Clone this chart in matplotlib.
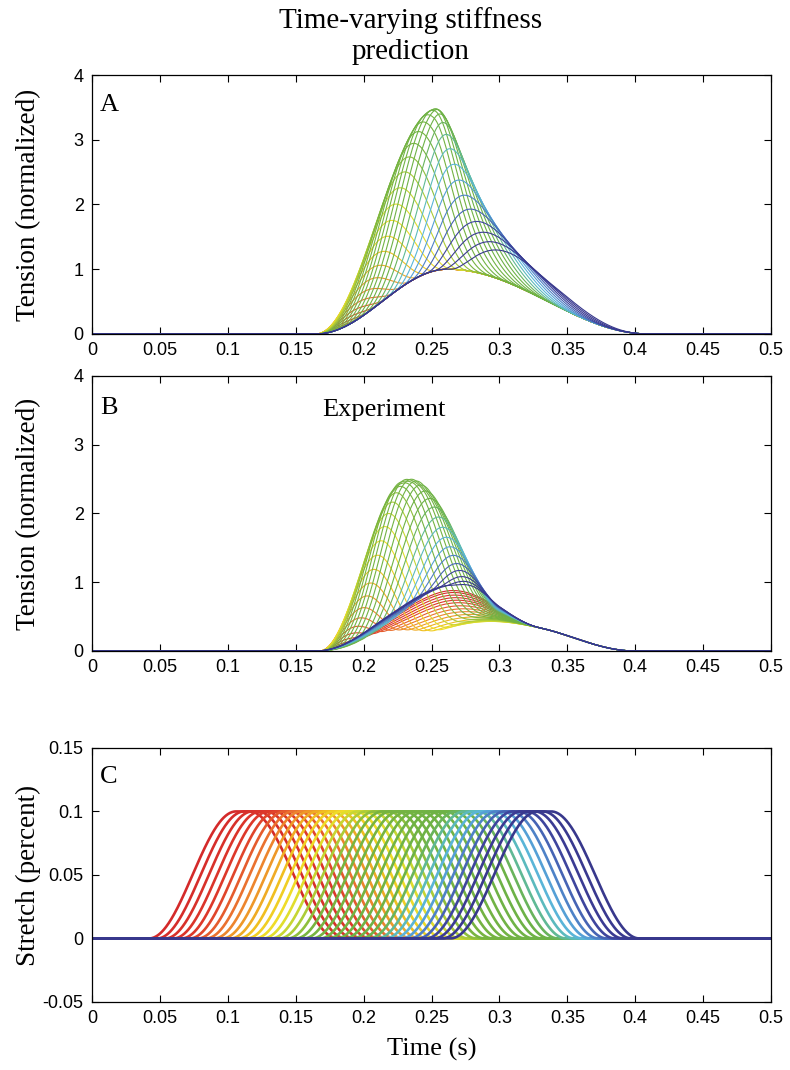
import numpy as np
import matplotlib
matplotlib.use('Agg')
import matplotlib.pyplot as plt
from matplotlib.colors import LinearSegmentedColormap

# stretch onset times (s), one per trial
stretch_onset = [0.042, 0.048, 0.054, 0.060, 0.066, 0.072, 0.078, 0.084, 0.090, 0.096,
                 0.102, 0.108, 0.114, 0.120, 0.126, 0.132, 0.138, 0.144, 0.150, 0.156,
                 0.162, 0.168, 0.174, 0.180, 0.186, 0.192, 0.198, 0.204, 0.210, 0.216,
                 0.222, 0.228, 0.234, 0.240, 0.246, 0.252, 0.258, 0.264]
stretch_size = 0.1
stretch_rise, stretch_hold, stretch_fall = 0.064, 0.010, 0.065

# panel A: twitch (onset, peak, end) and stiffness (onset, peak, decay width)
twitch_a = (0.165, 0.262, 0.41)
stiff_a = (0.165, 0.252, 0.0314)
stiff_a_peak = 2.5

# panel B: measured twitch amplitude per trial, shoulder and stiffness
twitch_b = (0.165, 0.255, 0.33)
twitch_b_amp = [0.72, 0.69, 0.65, 0.61, 0.57, 0.53, 0.48, 0.43, 0.38, 0.33,
                0.28, 0.23, 0.19, 0.17, 0.17, 0.18, 0.20, 0.23, 0.26, 0.29,
                0.32, 0.35, 0.38, 0.42, 0.46, 0.50, 0.54, 0.58, 0.61, 0.64,
                0.67, 0.70, 0.73, 0.75, 0.77, 0.78, 0.79, 0.80]
shoulder_b = (0.22, 0.31, 0.40)
shoulder_b_amp = 0.38
stiff_b = (0.168, 0.228, 0.30)
stiff_b_peak = 2.2

xticks = [0, 0.05, 0.1, 0.15, 0.2, 0.25, 0.3, 0.35, 0.4, 0.45, 0.5]
xticklabels = ['0', '0.05', '0.1', '0.15', '0.2', '0.25', '0.3', '0.35', '0.4', '0.45', '0.5']

t = np.linspace(0, 0.5, 1001)


def ramp(x):
    x = np.clip(x, 0, 1)
    return 0.5 * (1 - np.cos(np.pi * x))


def bump(t, p):
    t0, tp, t1 = p
    return ramp((t - t0) / (tp - t0)) - ramp((t - tp) / (t1 - tp))


def rise_decay(t, p):
    # cosine rise to the peak, then a slow (long-tailed) decay
    t0, tp, w = p
    up = ramp((t - t0) / (tp - t0))
    down = 1.0 / (1.0 + ((t - tp) / w) ** 2)
    return np.where(t < tp, up, down)


def stretch(t, t0):
    up = ramp((t - t0) / stretch_rise)
    down = ramp((t - t0 - stretch_rise - stretch_hold) / stretch_fall)
    return stretch_size * (up - down)


cmap = LinearSegmentedColormap.from_list('trials', [
    (0.00, '#d42a2a'), (0.12, '#de3a2a'), (0.20, '#ec7a30'), (0.30, '#f0c020'),
    (0.36, '#efe22a'), (0.42, '#b8d236'), (0.48, '#78b440'), (0.72, '#6cb248'),
    (0.77, '#5cbcb0'), (0.82, '#5ab4e0'), (0.88, '#4a74c0'), (0.93, '#3c3c96'),
    (1.00, '#38388c')])
n = len(stretch_onset)
colors = [cmap(k / (n - 1)) for k in range(n)]

serif = 'Liberation Serif'
sans = 'Liberation Sans'

fig = plt.figure(figsize=(7.9, 10.7), dpi=100)
L, W = 0.1165, 0.8595
axA = fig.add_axes([L, 0.6879, W, 0.2420])
axB = fig.add_axes([L, 0.3916, W, 0.2570])
axC = fig.add_axes([L, 0.0636, W, 0.2374])

base_a = bump(t, twitch_a)
k_a = stiff_a_peak * rise_decay(t, stiff_a)
shoulder = shoulder_b_amp * bump(t, shoulder_b)
k_b = stiff_b_peak * bump(t, stiff_b)

for k in range(n):
    s = stretch(t, stretch_onset[k])
    axA.plot(t, base_a + k_a * s / stretch_size, color=colors[k], lw=0.8)
    tb = twitch_b_amp[k] * bump(t, twitch_b) + shoulder + k_b * s / stretch_size
    axB.plot(t, tb, color=colors[k], lw=0.8)
    axC.plot(t, s, color=colors[k], lw=1.9)

for ax in (axA, axB, axC):
    ax.set_xlim(0, 0.5)
    ax.set_xticks(xticks)
    ax.set_xticklabels(xticklabels, family=sans, fontsize=13)
    ax.tick_params(direction='in', top=True, right=True, length=5, width=0.8, pad=6)
    for sp in ax.spines.values():
        sp.set_linewidth(0.9)

for ax in (axA, axB):
    ax.set_ylim(0, 4)
    ax.set_yticks([0, 1, 2, 3, 4])
    ax.set_yticklabels(['0', '1', '2', '3', '4'], family=sans, fontsize=13)
    ax.set_ylabel('Tension (normalized)', family=serif, fontsize=19.5)
    ax.yaxis.set_label_coords(-0.075, 0.5)

axC.set_ylim(-0.05, 0.15)
axC.set_yticks([-0.05, 0, 0.05, 0.1, 0.15])
axC.set_yticklabels(['-0.05', '0', '0.05', '0.1', '0.15'], family=sans, fontsize=13)
axC.set_ylabel('Stretch (percent)', family=serif, fontsize=19.5)
axC.yaxis.set_label_coords(-0.075, 0.5)
axC.set_xlabel('Time (s)', family=serif, fontsize=19, labelpad=8)

for ax, letter in ((axA, 'A'), (axB, 'B'), (axC, 'C')):
    ax.text(0.012, 0.885, letter, transform=ax.transAxes, family=serif,
            fontsize=19, va='center', ha='left')

axB.text(0.215, 3.5, 'Experiment', family=serif, fontsize=19, ha='center', va='center')
fig.text(0.52, 0.993, 'Time-varying stiffness\nprediction', family=serif, fontsize=21,
         ha='center', va='top', linespacing=1.25)

fig.savefig('out.png', dpi=100)
